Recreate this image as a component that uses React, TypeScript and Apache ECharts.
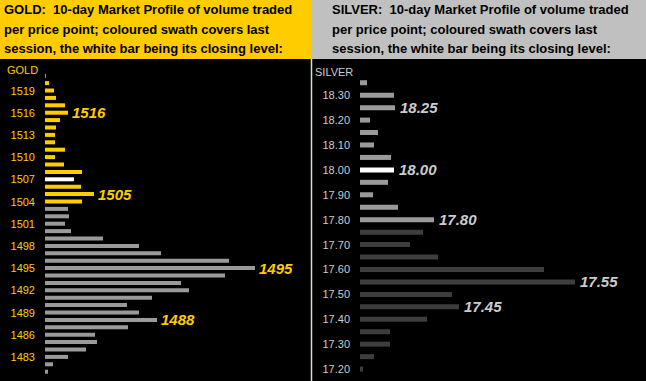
import React, { useEffect, useRef } from "react";
import * as echarts from "echarts";

// ---------- data ----------
const goldPrices = [
  1481, 1482, 1483, 1484, 1485, 1486, 1487, 1488, 1489, 1490, 1491, 1492, 1493, 1494,
  1495, 1496, 1497, 1498, 1499, 1500, 1501, 1502, 1503, 1504, 1505, 1506, 1507, 1508,
  1509, 1510, 1511, 1512, 1513, 1514, 1515, 1516, 1517, 1518, 1519, 1520, 1521,
];
const goldVolumes = [
  3, 8, 23, 41, 52, 50, 83, 112, 94, 82, 107, 144, 136, 180,
  210, 184, 116, 94, 58, 26, 20, 24, 23, 37, 49, 36, 29, 37,
  19, 10, 20, 10, 10, 11, 15, 23, 20, 11, 9, 4, 1,
];
const goldSessionLow = 1504;
const goldSessionHigh = 1520;
const goldClose = 1507;
const goldCallouts = [1516, 1505, 1495, 1488];
const goldTickBase = 1483;
const goldTickStep = 3;

const silverPrices = [
  17.2, 17.25, 17.3, 17.35, 17.4, 17.45, 17.5, 17.55, 17.6, 17.65, 17.7, 17.75,
  17.8, 17.85, 17.9, 17.95, 18.0, 18.05, 18.1, 18.15, 18.2, 18.25, 18.3, 18.35,
];
const silverVolumes = [
  3, 14, 30, 30, 67, 99, 92, 215, 184, 78, 50, 63,
  74, 38, 13, 28, 34, 31, 14, 18, 10, 35, 34, 7,
];
const silverSessionLow = 17.8;
const silverSessionHigh = 18.35;
const silverClose = 18.0;
const silverCallouts = [18.25, 18.0, 17.8, 17.55, 17.45];

const goldHeader = [
  "GOLD:  10-day Market Profile of volume traded",
  "per price point; coloured swath covers last",
  "session, the white bar being its closing level:",
];
const silverHeader = [
  "SILVER:  10-day Market Profile of volume traded",
  "per price point; coloured swath covers last",
  "session, the white bar being its closing level:",
];

// ---------- styles ----------
const FONT = "'Liberation Sans', Arial, Helvetica, sans-serif";
const GOLD = "#FFCC00";
const GRAY = "#9a9a9a";
const DARK = "#3d3d3d";
const SILVER_TXT = "#cccccc";

const cents = (v: number) => Math.round(v * 100);

export default function App() {
  const ref = useRef<HTMLDivElement>(null);

  useEffect(() => {
    if (!ref.current) return;
    const chart = echarts.init(ref.current, undefined, { renderer: "svg" });

    const goldData = goldPrices.map((p, i) => {
      let color = GRAY;
      if (p === goldClose) color = "#ffffff";
      else if (p >= goldSessionLow && p <= goldSessionHigh) color = GOLD;
      const callout = goldCallouts.includes(p);
      return {
        value: goldVolumes[i],
        itemStyle: { color },
        label: {
          show: callout,
          position: "right",
          distance: 4,
          formatter: String(p),
          color: GOLD,
          fontSize: 15,
          fontWeight: "bold",
          fontStyle: "italic",
          fontFamily: FONT,
        },
      };
    });

    const silverData = silverPrices.map((p, i) => {
      let color = DARK;
      const c = cents(p);
      if (c === cents(silverClose)) color = "#ffffff";
      else if (c >= cents(silverSessionLow) && c <= cents(silverSessionHigh)) color = GRAY;
      const callout = silverCallouts.some((q) => cents(q) === c);
      return {
        value: silverVolumes[i],
        itemStyle: { color },
        label: {
          show: callout,
          position: "right",
          distance: 5,
          formatter: p.toFixed(2),
          color: SILVER_TXT,
          fontSize: 15,
          fontWeight: "bold",
          fontStyle: "italic",
          fontFamily: FONT,
        },
      };
    });

    const headerText = (lines: string[], x: number) =>
      lines.map((t, i) => ({
        type: "text",
        left: x,
        top: 3 + i * 19.5,
        silent: true,
        style: {
          text: t,
          fill: "#000000",
          font: `bold 13px ${FONT}`,
        },
      }));

    chart.setOption({
      animation: false,
      backgroundColor: "#000000",
      grid: [
        { left: 45, top: 72, width: 266, height: 303.4 },
        { left: 360, top: 76.5, width: 286, height: 298.8 },
      ],
      xAxis: [
        { type: "value", gridIndex: 0, min: 0, max: 266, show: false },
        { type: "value", gridIndex: 1, min: 0, max: 286, show: false },
      ],
      yAxis: [
        {
          type: "category",
          gridIndex: 0,
          data: goldPrices.map(String),
          axisLine: { show: false },
          axisTick: { show: false },
          splitLine: { show: false },
          axisLabel: {
            interval: (_i: number, v: string) => (Number(v) - goldTickBase) % goldTickStep === 0,
            color: GOLD,
            fontSize: 11,
            fontFamily: FONT,
            margin: 10,
          },
        },
        {
          type: "category",
          gridIndex: 1,
          data: silverPrices.map((p) => p.toFixed(2)),
          axisLine: { show: false },
          axisTick: { show: false },
          splitLine: { show: false },
          axisLabel: {
            interval: (_i: number, v: string) => cents(Number(v)) % 10 === 0,
            color: SILVER_TXT,
            fontSize: 11,
            fontFamily: FONT,
            margin: 10,
          },
        },
      ],
      series: [
        {
          type: "bar",
          xAxisIndex: 0,
          yAxisIndex: 0,
          barWidth: 4,
          data: goldData,
        },
        {
          type: "bar",
          xAxisIndex: 1,
          yAxisIndex: 1,
          barWidth: 5,
          data: silverData,
        },
      ],
      graphic: [
        {
          type: "rect",
          silent: true,
          shape: { x: 0, y: 0, width: 311, height: 59 },
          style: { fill: GOLD },
        },
        {
          type: "rect",
          silent: true,
          shape: { x: 311, y: 0, width: 335, height: 59 },
          style: { fill: "#c0c0c0" },
        },
        ...headerText(goldHeader, 4),
        ...headerText(silverHeader, 332),
        {
          type: "line",
          silent: true,
          shape: { x1: 311.5, y1: 59, x2: 311.5, y2: 381 },
          style: { stroke: "#d8d8d8", lineWidth: 1.5 },
        },
        {
          type: "text",
          left: 7,
          top: 64,
          silent: true,
          style: { text: "GOLD", fill: GOLD, font: `11px ${FONT}` },
        },
        {
          type: "text",
          left: 315,
          top: 66,
          silent: true,
          style: { text: "SILVER", fill: SILVER_TXT, font: `11px ${FONT}` },
        },
      ],
    });

    return () => chart.dispose();
  }, []);

  return (
    <div
      ref={ref}
      style={{ position: "absolute", left: 0, top: 0, width: 646, height: 381 }}
    />
  );
}
